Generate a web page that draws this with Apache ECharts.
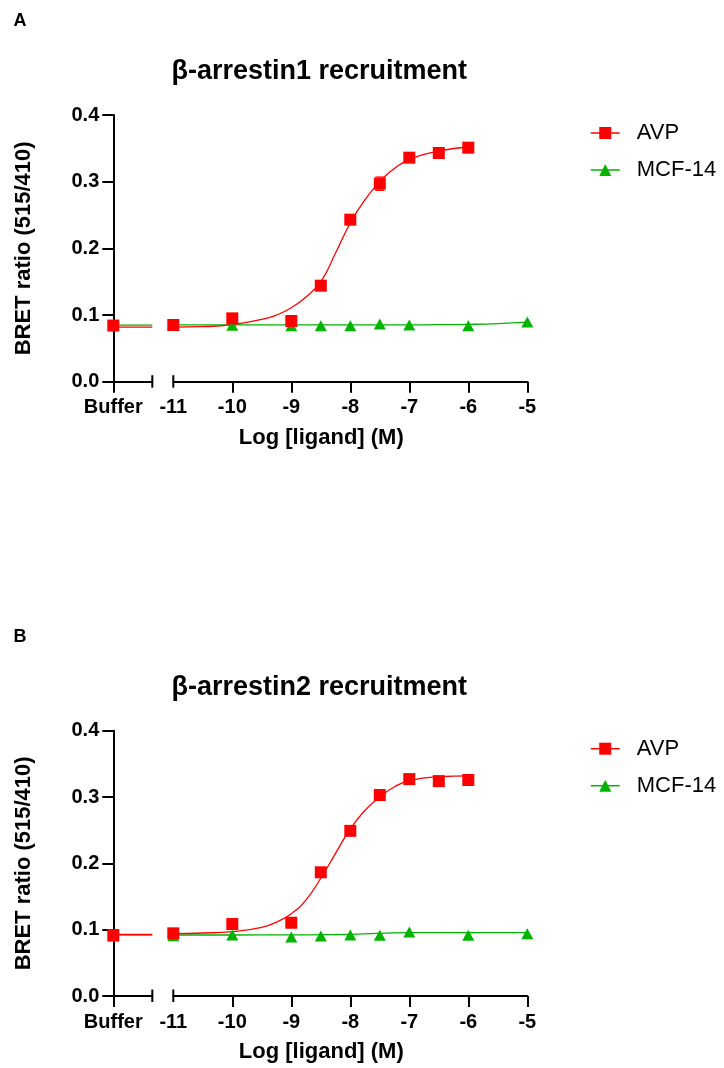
<!DOCTYPE html>
<html>
<head>
<meta charset="utf-8">
<script src="https://cdn.jsdelivr.net/npm/echarts@6/dist/echarts.min.js"></script>
<style>html,body{margin:0;padding:0;background:#fff}#c{width:724px;height:1068px}</style>
</head>
<body>
<div id="c"></div>
<script>
// ---------- data ----------
const panelLabels = ['A', 'B'];
const panelTitles = ['β-arrestin1 recruitment', 'β-arrestin2 recruitment'];
const seriesNames = ['AVP', 'MCF-14'];
const bufferLabel = 'Buffer';
const xTickValues = [-11, -10, -9, -8, -7, -6, -5];
const yTickValues = [0, 0.1, 0.2, 0.3, 0.4];
const xTitle = 'Log [ligand] (M)';
const yTitle = 'BRET ratio (515/410)';

const avpDose = [-11, -10, -9, -8.5, -8, -7.5, -7, -6.5, -6];
const mcfDose = [-11, -10, -9, -8.5, -8, -7.5, -7, -6, -5];

// Panel A
const avpA = [0.085, 0.095, 0.091, 0.144, 0.243, 0.297, 0.336, 0.343, 0.351];
const avpSemA = [0, 0, 0, 0, 0, 0.010, 0, 0, 0];
const mcfA = [0.085, 0.0845, 0.084, 0.084, 0.084, 0.0865, 0.085, 0.084, 0.0895];
const avpBufferA = 0.0842;
const mcfBufferA = 0.085;
const avpFitXA = [-11, -10.5, -10, -9.5, -9.25, -9, -8.75, -8.5, -8.25, -8, -7.75, -7.5, -7.25, -7, -6.5, -6];
const avpFitYA = [0.0818, 0.0825, 0.0855, 0.0935, 0.100, 0.111, 0.127, 0.150, 0.193, 0.238, 0.273, 0.300, 0.320, 0.333, 0.346, 0.352];
const mcfFitXA = [-11, -10, -9, -8, -7, -6.5, -6, -5.5, -5];
const mcfFitYA = [0.0853, 0.0853, 0.0853, 0.0853, 0.0853, 0.0855, 0.086, 0.0872, 0.0895];
const avpFitBufferA = 0.0818;
const mcfFitBufferA = 0.085;

// Panel B
const avpB = [0.0945, 0.1085, 0.1105, 0.1865, 0.249, 0.303, 0.327, 0.324, 0.3257];
const avpSemB = [0, 0, 0, 0, 0, 0, 0, 0, 0.003];
const mcfB = [0.091, 0.092, 0.089, 0.0905, 0.092, 0.0915, 0.0965, 0.0915, 0.094];
const avpBufferB = 0.092;
const mcfBufferB = 0.090;
const avpFitXB = [-11, -10.5, -10, -9.5, -9.25, -9, -8.75, -8.5, -8.25, -8, -7.75, -7.5, -7.25, -7, -6.5, -6];
const avpFitYB = [0.094, 0.095, 0.097, 0.1035, 0.1115, 0.124, 0.145, 0.1775, 0.215, 0.252, 0.280, 0.300, 0.3155, 0.3246, 0.3306, 0.332];
const mcfFitXB = [-11, -10, -9, -8, -7, -6, -5];
const mcfFitYB = [0.092, 0.092, 0.0922, 0.093, 0.0955, 0.0955, 0.0955];
const avpFitBufferB = 0.093;
const mcfFitBufferB = 0.092;

// ---------- layout / style ----------
const RED = '#ff0000';
const GREEN = '#00b400';
const FONT = '"Liberation Sans", Arial, sans-serif';
const plotLeft = 113.3, bufferRight = 152.3, mainLeft = 173.3, mainRight = 527.3;
const panelTop = [115, 730.7];
const panelHeight = [266.7, 265.3];

const panelData = [
  {avp: avpA, sem: avpSemA, mcf: mcfA, avpBuf: avpBufferA, mcfBuf: mcfBufferA,
   avpFitX: avpFitXA, avpFitY: avpFitYA, mcfFitX: mcfFitXA, mcfFitY: mcfFitYA,
   avpFitBuf: avpFitBufferA, mcfFitBuf: mcfFitBufferA},
  {avp: avpB, sem: avpSemB, mcf: mcfB, avpBuf: avpBufferB, mcfBuf: mcfBufferB,
   avpFitX: avpFitXB, avpFitY: avpFitYB, mcfFitX: mcfFitXB, mcfFitY: mcfFitYB,
   avpFitBuf: avpFitBufferB, mcfFitBuf: mcfFitBufferB}
];

const zip = (xs, ys) => xs.map((x, i) => [x, ys[i]]);

const grid = [], xAxis = [], yAxis = [], series = [], legend = [], graphic = [];

const tickLabelStyle = {color: '#000', fontSize: 20, fontWeight: 'bold', fontFamily: FONT};
const axisLineStyle = {color: '#000', width: 2};

function breakMark(params, api) {
  const p = api.coord([api.value(0), 0]);
  return {type: 'line', shape: {x1: p[0], y1: p[1] - 6.5, x2: p[0], y2: p[1] + 6},
          style: {stroke: '#000', lineWidth: 2}};
}
function errorBar(params, api) {
  const x = api.value(0), m = api.value(1), s = api.value(2);
  const top = api.coord([x, m + s]), bot = api.coord([x, m - s]);
  const hw = 4.5;
  return {type: 'group', children: [
    {type: 'line', shape: {x1: top[0], y1: top[1], x2: bot[0], y2: bot[1]}, style: {stroke: RED, lineWidth: 1.2}},
    {type: 'line', shape: {x1: top[0] - hw, y1: top[1], x2: top[0] + hw, y2: top[1]}, style: {stroke: RED, lineWidth: 1.2}},
    {type: 'line', shape: {x1: bot[0] - hw, y1: bot[1], x2: bot[0] + hw, y2: bot[1]}, style: {stroke: RED, lineWidth: 1.2}}
  ]};
}

panelData.forEach((d, i) => {
  const top = panelTop[i], h = panelHeight[i];
  const gb = 2 * i, gm = 2 * i + 1;
  grid.push({left: plotLeft, top: top, width: bufferRight - plotLeft, height: h, containLabel: false});
  grid.push({left: mainLeft, top: top, width: mainRight - mainLeft, height: h, containLabel: false});

  xAxis.push({
    gridIndex: gb, type: 'value', min: 0, max: 1, position: 'bottom',
    axisLine: {show: true, onZero: false, lineStyle: axisLineStyle},
    axisTick: {show: true, length: 11, lineStyle: axisLineStyle, customValues: [0]},
    axisLabel: {show: true, margin: 16, ...tickLabelStyle, customValues: [0], formatter: () => bufferLabel},
    splitLine: {show: false}
  });
  xAxis.push({
    gridIndex: gm, type: 'value', min: xTickValues[0], max: xTickValues[xTickValues.length - 1], interval: 1, position: 'bottom',
    axisLine: {show: true, onZero: false, lineStyle: axisLineStyle},
    axisTick: {show: true, length: 11, lineStyle: axisLineStyle, customValues: xTickValues.slice(1)},
    axisLabel: {show: true, margin: 16, ...tickLabelStyle, customValues: xTickValues, formatter: v => String(v), showMinLabel: true, showMaxLabel: true},
    splitLine: {show: false}
  });
  yAxis.push({
    gridIndex: gb, type: 'value', min: yTickValues[0], max: yTickValues[yTickValues.length - 1], interval: 0.1,
    axisLine: {show: true, onZero: false, lineStyle: axisLineStyle},
    axisTick: {show: true, length: 11, lineStyle: axisLineStyle},
    axisLabel: {show: true, margin: 14, ...tickLabelStyle, formatter: v => v.toFixed(1)},
    splitLine: {show: false},
    name: yTitle, nameLocation: 'middle', nameRotate: 90, nameGap: 78,
    nameTextStyle: {color: '#000', fontSize: 22, fontWeight: 'bold', fontFamily: FONT}
  });
  yAxis.push({
    gridIndex: gm, type: 'value', min: yTickValues[0], max: yTickValues[yTickValues.length - 1], interval: 0.1, show: false
  });

  const lineCommon = {type: 'line', showSymbol: false, symbol: 'none', silent: true, z: 2};
  series.push({...lineCommon, name: 'MCF-14 fit', xAxisIndex: gb, yAxisIndex: gb,
    data: [[0, d.mcfFitBuf], [1, d.mcfFitBuf]], lineStyle: {color: GREEN, width: 1.3}});
  series.push({...lineCommon, name: 'AVP fit', xAxisIndex: gb, yAxisIndex: gb,
    data: [[0, d.avpFitBuf], [1, d.avpFitBuf]], lineStyle: {color: RED, width: 1.3}});
  series.push({...lineCommon, name: 'MCF-14 fit', xAxisIndex: gm, yAxisIndex: gm, smooth: 0.5,
    data: zip(d.mcfFitX, d.mcfFitY), lineStyle: {color: GREEN, width: 1.3}});
  series.push({...lineCommon, name: 'AVP fit', xAxisIndex: gm, yAxisIndex: gm, smooth: 0.5,
    data: zip(d.avpFitX, d.avpFitY), lineStyle: {color: RED, width: 1.3}});

  series.push({type: 'custom', name: 'AVP sem', xAxisIndex: gm, yAxisIndex: gm, silent: true, z: 3, clip: false,
    renderItem: errorBar,
    data: avpDose.map((x, k) => [x, d.avp[k], d.sem[k]]).filter(r => r[2] > 0)});

  const markerCommon = {type: 'line', showSymbol: true, silent: true};
  const tri = {symbol: 'triangle', symbolSize: [12, 11], itemStyle: {color: GREEN}};
  const sq = {symbol: 'rect', symbolSize: 12, itemStyle: {color: RED}};
  series.push({...markerCommon, ...tri, name: seriesNames[1], xAxisIndex: gb, yAxisIndex: gb, z: 4,
    lineStyle: {opacity: 0, width: 1.3, color: GREEN}, data: [[0, d.mcfBuf]]});
  series.push({...markerCommon, ...tri, name: seriesNames[1], xAxisIndex: gm, yAxisIndex: gm, z: 4,
    lineStyle: {opacity: 0, width: 1.3, color: GREEN}, data: zip(mcfDose, d.mcf)});
  series.push({...markerCommon, ...sq, name: seriesNames[0], xAxisIndex: gb, yAxisIndex: gb, z: 5,
    lineStyle: {opacity: 0, width: 1.3, color: RED}, data: [[0, d.avpBuf]]});
  series.push({...markerCommon, ...sq, name: seriesNames[0], xAxisIndex: gm, yAxisIndex: gm, z: 5,
    lineStyle: {opacity: 0, width: 1.3, color: RED}, data: zip(avpDose, d.avp)});

  series.push({type: 'custom', name: 'break', xAxisIndex: gb, yAxisIndex: gb, silent: true, clip: false, z: 6,
    renderItem: breakMark, data: [[1]]});
  series.push({type: 'custom', name: 'break', xAxisIndex: gm, yAxisIndex: gm, silent: true, clip: false, z: 6,
    renderItem: breakMark, data: [[xTickValues[0]]]});

  legend.push({
    data: [seriesNames[0], seriesNames[1]], orient: 'vertical', left: 590, top: top + 7, padding: 0,
    itemWidth: 29, itemHeight: 15, itemGap: 15, selectedMode: false,
    lineStyle: {opacity: 1, width: 1.5},
    textStyle: {color: '#000', fontSize: 22, fontFamily: FONT, padding: [0, 0, 0, 12]}
  });

  graphic.push({type: 'text', x: 20, y: top - 94, silent: true,
    style: {text: panelLabels[i], font: 'bold 18px ' + FONT, fill: '#000', align: 'center', verticalAlign: 'middle', textAlign: 'center', textVerticalAlign: 'middle'}});
  graphic.push({type: 'text', x: (plotLeft + mainRight) / 2 - 1, y: top - 43, silent: true,
    style: {text: panelTitles[i], font: 'bold 27px ' + FONT, fill: '#000', align: 'center', verticalAlign: 'middle', textAlign: 'center', textVerticalAlign: 'middle'}});
  graphic.push({type: 'text', x: (plotLeft + mainRight) / 2 + 1, y: top + h + 56, silent: true,
    style: {text: xTitle, font: 'bold 22px ' + FONT, fill: '#000', align: 'center', verticalAlign: 'middle', textAlign: 'center', textVerticalAlign: 'middle'}});
});

const chart = echarts.init(document.getElementById('c'), null, {renderer: 'canvas'});
chart.setOption({
  animation: false,
  backgroundColor: '#ffffff',
  grid, xAxis, yAxis, series, legend, graphic
});
</script>
</body>
</html>
